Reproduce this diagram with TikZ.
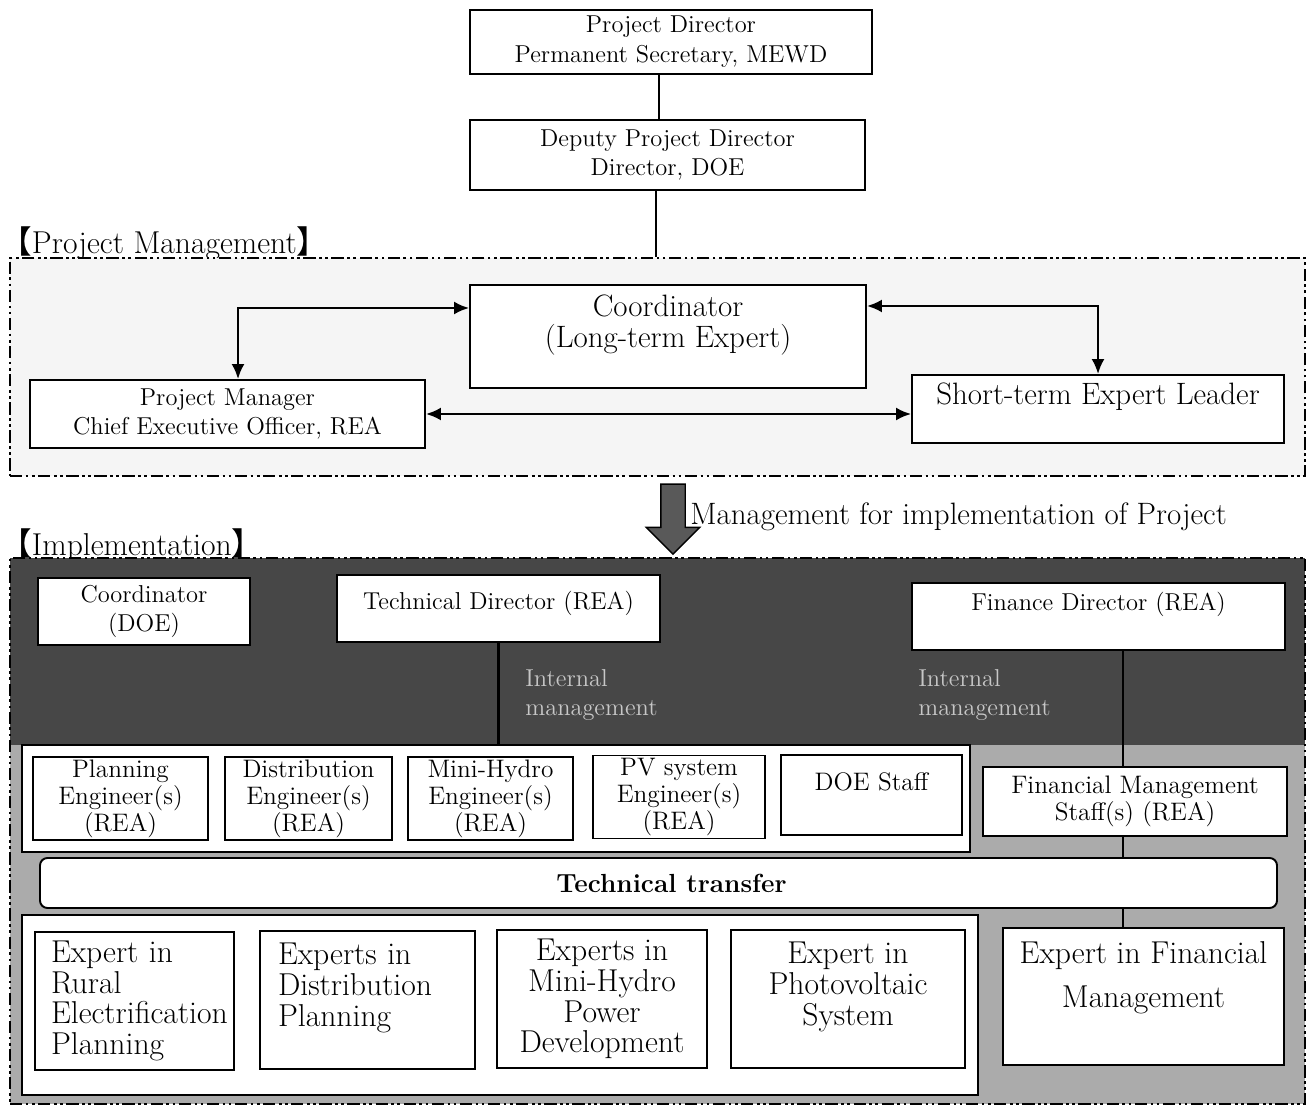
\documentclass[tikz,border=0pt]{standalone}
\usepackage{fontspec}
\usepackage{tikz}
\usetikzlibrary{positioning}
\usetikzlibrary{arrows.meta}
\usetikzlibrary{shapes.arrows}
\newfontfamily\cjkfont{Noto Sans CJK JP}
\newcommand{\ftop}{\fontsize{13.9}{17}\selectfont}
\newcommand{\fbig}{\fontsize{17.6}{17.6}\selectfont}
\newcommand{\feng}{\fontsize{14.4}{15.4}\selectfont}
\newcommand{\fexp}{\fontsize{18}{17.5}\selectfont}
\newcommand{\ftt}{\fontsize{14.9}{17}\selectfont\bfseries}
\newcommand{\fhead}{\fontsize{18}{20}\selectfont}
\tikzset {
  % plain boxes of the chart
  box/.style = {draw, fill=white, line width=1.1pt, inner sep=0pt, align=center, font=\ftop},
  bigbox/.style = {box, font=\fbig},
  % engineers and experts
  eng/.style = {box, font=\feng, minimum height=16.6mm},
  expert/.style = {box, font=\fexp, minimum height=27.6mm},
  % dash-dot-dot frames round the two parts
  frame/.style = {draw, line width=1pt, inner sep=0pt,
    dash pattern=on 7pt off 2pt on 1.5pt off 2pt on 1.5pt off 2pt},
  pmregion/.style = {frame, fill=black!4},
  impregion/.style = {frame, fill=black!33,
    path picture={\fill[black!72] (path picture bounding box.north west)
      rectangle ([yshift=-37.4mm]path picture bounding box.north east);}},
  % connectors
  link/.style = {line width=1.3pt},
  biarrow/.style = {{Latex[length=3mm,width=2.6mm]}-{Latex[length=3mm,width=2.6mm]}, line width=1.3pt},
  ghost/.style = {text=black!22, font=\ftop, align=left, anchor=west, inner sep=0pt},
}

\begin{document}
\begin{tikzpicture}[x=0.2mm, y=-0.2mm]
  \useasboundingbox (0,0) rectangle (1308,1106);

  % directors
  \node[box, minimum width=80.4mm, minimum height=12.8mm] (pd) at (671,42) {Project Director\\Permanent Secretary, MEWD};
  \node[box, minimum width=79mm, minimum height=14mm] (dpd) at (667.5,155) {Deputy Project Director\\Director, DOE};

  % project management
  \node[anchor=west, font=\fhead, inner sep=0pt] (pmlabel) at (0,243) {{\cjkfont 【}Project Management{\cjkfont 】}};
  \node[pmregion, minimum width=259mm, minimum height=43.6mm] (pmreg) at (657.5,367) {};
  \node[bigbox, minimum width=79.2mm, minimum height=20.6mm] (coord) at (668,336.5) {Coordinator\\(Long-term Expert)\\\mbox{}};
  \node[box, minimum width=79mm, minimum height=13.6mm] (pm) at (227.5,414) {Project Manager\\Chief Executive Officer, REA};
  \node[bigbox, minimum width=74.4mm, minimum height=13.6mm] (stel) at (1098,409) {Short-term Expert Leader\\\mbox{}};

  \draw[link] ([xshift=-2.4mm]pd.south) -- ([xshift=-2.4mm]pd.south |- dpd.north);
  \draw[link] ([xshift=-2.3mm]dpd.south) -- ([xshift=-2.3mm]dpd.south |- pmreg.north);
  \draw[biarrow] ([yshift=5.7mm]coord.west) -| ([xshift=2.1mm]pm.north);
  \draw[biarrow] ([yshift=6.1mm]coord.east) -| (stel.north);
  \draw[biarrow] (pm.east) -- (pm.east -| stel.west);

  % management arrow
  \node[single arrow, draw, fill=black!65, line width=0.8pt, inner sep=2.3mm,
    single arrow head extend=2.9mm, minimum height=14mm, shape border rotate=270] (mgarrow) at (673,513) {};
  \node[anchor=west, font=\fbig, inner sep=0pt] (mgtext) at (690,517) {Management for implementation of Project};

  % implementation
  \node[anchor=west, font=\fhead, inner sep=0pt] (implabel) at (0,545) {{\cjkfont 【}Implementation{\cjkfont 】}};
  \node[impregion, minimum width=259mm, minimum height=109.2mm] (impreg) at (657.5,831) {};
  \node[ghost] (intm1) at (525,695) {Internal\\management};
  \node[ghost] (intm2) at (918,695) {Internal\\management};

  \node[box, minimum width=42.4mm, minimum height=13.4mm] (cdoe) at (144,611.5) {Coordinator\\(DOE)};
  \node[box, minimum width=64.6mm, minimum height=13.4mm] (tdir) at (498.5,608.5) {Technical Director (REA)\\[-7.2pt]\mbox{}};
  \node[box, minimum width=74.6mm, minimum height=13.4mm] (fdir) at (1098.5,616.5) {Finance Director (REA)\\\mbox{}};

  \node[box, minimum width=189.6mm, minimum height=21.4mm] (engbox) at (496,798.5) {};
  \node[eng, minimum width=35mm] (pe) at (120.5,798.5) {Planning\\Engineer(s)\\(REA)};
  \node[eng, minimum width=33.4mm] (de) at (308.5,798.5) {Distribution\\Engineer(s)\\(REA)};
  \node[eng, minimum width=33mm] (mhe) at (490.5,798.5) {Mini-Hydro\\Engineer(s)\\(REA)};
  \node[eng, minimum width=34.4mm] (pve) at (679,797) {PV system\\Engineer(s)\\(REA)};
  \node[eng, minimum width=36.2mm, minimum height=16mm] (doe) at (871.5,795) {DOE Staff\\\mbox{}};
  \node[box, minimum width=60.8mm, minimum height=13.8mm, font=\feng] (fms) at (1135,801.5) {Financial Management\\Staff(s) (REA)};

  \node[box, rounded corners=1.5mm, minimum width=247.4mm, minimum height=10mm, font=\ftt] (tt) at (658.5,883) {\hspace*{5.2mm}Technical transfer};

  \node[box, minimum width=191.2mm, minimum height=36mm] (expbox) at (500,1005) {};
  \node[expert, minimum width=39.8mm, text width=33.4mm, align=left] (erp) at (134.5,1001) {Expert in\\Rural\\Electrification\\Planning};
  \node[expert, minimum width=43mm, text width=35.8mm, align=left] (dp) at (367.5,1000) {Experts in\\Distribution\\Planning\\\mbox{}};
  \node[expert, minimum width=42mm] (mhp) at (602,999) {Experts in\\Mini-Hydro\\Power\\Development};
  \node[expert, minimum width=46.8mm] (pvs) at (848,999) {Expert in\\Photovoltaic\\System\\\mbox{}};
  \node[expert, minimum width=56.2mm, minimum height=27.4mm] (efm) at (1143.5,996.5) {Expert in Financial\\[7.4pt]Management\\[7.4pt]\mbox{}};

  \draw[link] (tdir.south) -- (tdir.south |- engbox.north);
  \draw[link] ([xshift=4.9mm]fdir.south) -- ([xshift=4.9mm]fdir.south |- fms.north);
  \draw[link] ([xshift=4.9mm]fdir.south |- fms.south) -- ([xshift=4.9mm]fdir.south |- tt.north);
  \draw[link] ([xshift=4.9mm]fdir.south |- tt.south) -- ([xshift=4.9mm]fdir.south |- efm.north);
\end{tikzpicture}
\end{document}
